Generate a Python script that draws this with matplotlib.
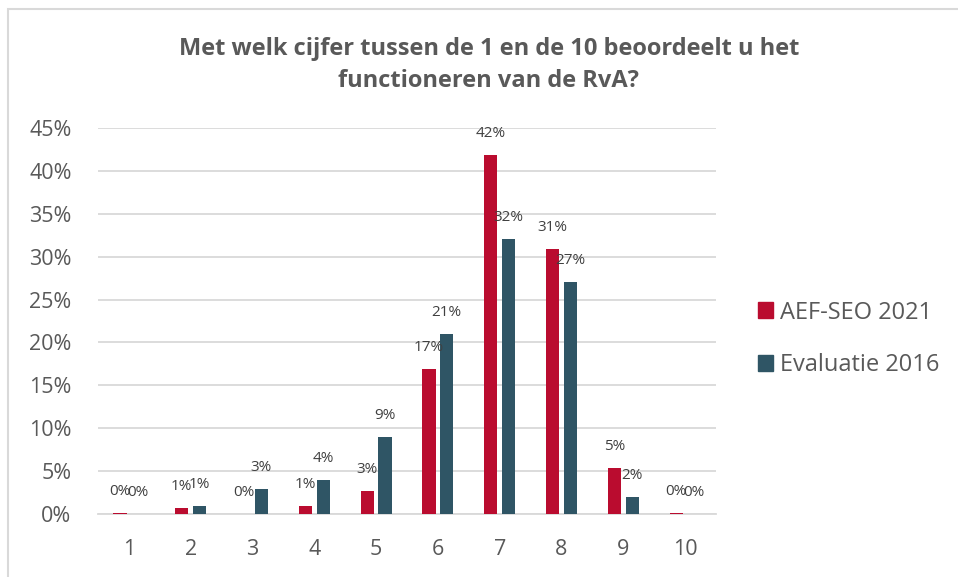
import numpy as np
import matplotlib
matplotlib.use("Agg")
import matplotlib.pyplot as plt
from matplotlib.patches import Rectangle, Patch

plt.rcParams['font.family'] = ['Open Sans', 'DejaVu Sans']

cijfers = ['1', '2', '3', '4', '5', '6', '7', '8', '9', '10']
aef_2021 = [0.2, 0.7, 0.0, 1.0, 2.7, 16.9, 41.8, 30.9, 5.4, 0.2]
eval_2016 = [0.0, 1.0, 3.0, 4.0, 9.0, 21.0, 32.0, 27.0, 2.0, 0.0]
series_names = ['AEF-SEO 2021', 'Evaluatie 2016']

red = '#BA0C2F'
teal = '#2F5565'
grid_grey = '#D9D9D9'
text_grey = '#595959'
label_grey = '#404040'

fig = plt.figure(figsize=(9.58, 5.77), dpi=100)
ax = fig.add_axes([98/958, 1-514.3/577, 618/958, 386.6/577])

x = np.arange(len(cijfers))
w = 0.216
off = 0.144
b1 = ax.bar(x - off, aef_2021, w, color=red, zorder=3)
b2 = ax.bar(x + off, eval_2016, w, color=teal, zorder=3)

for bars, vals in ((b1, aef_2021), (b2, eval_2016)):
    for b, v in zip(bars, vals):
        ax.annotate(f"{v:.0f}%", (b.get_x() + b.get_width()/2, v),
                    xytext=(0, 10), textcoords='offset points',
                    ha='center', va='bottom', fontsize=11, color=label_grey)

ax.set_xlim(-0.5, 9.5)
ax.set_ylim(0, 45)
ax.set_yticks(np.arange(0, 46, 5))
ax.set_yticklabels([f"{t}%" for t in range(0, 46, 5)])
ax.set_xticks(x)
ax.set_xticklabels(cijfers)
ax.tick_params(axis='both', length=0, labelsize=15.5, labelcolor=text_grey)
ax.tick_params(axis='y', pad=19)
ax.tick_params(axis='x', pad=18)
ax.grid(axis='y', color=grid_grey, linewidth=1.3, zorder=0)
for s in ['top', 'right', 'left']:
    ax.spines[s].set_visible(False)
ax.spines['bottom'].set_color(grid_grey)
ax.spines['bottom'].set_linewidth(1.3)

handles = [Patch(color=red), Patch(color=teal)]
fig.legend(handles, series_names, loc='center left',
           bbox_to_anchor=(758/958, 1-339/577), frameon=False,
           fontsize=17, labelcolor=text_grey, handlelength=0.64,
           handleheight=0.64, handletextpad=0.3, labelspacing=1.22,
           borderpad=0, borderaxespad=0)

fig.text(489/958, 1-65/577,
         "Met welk cijfer tussen de 1 en de 10 beoordeelt u het\nfunctioneren van de RvA?",
         ha='center', va='center', multialignment='center', fontsize=17,
         fontweight='bold', color=text_grey, linespacing=1.43)

# frame around chart area
fig.patches.append(Rectangle((8/958, -0.1), 1.2, 1.1 - 8.5/577,
                             transform=fig.transFigure, fill=False,
                             edgecolor=grid_grey, linewidth=1.5))

fig.savefig('out.png', dpi=100)
